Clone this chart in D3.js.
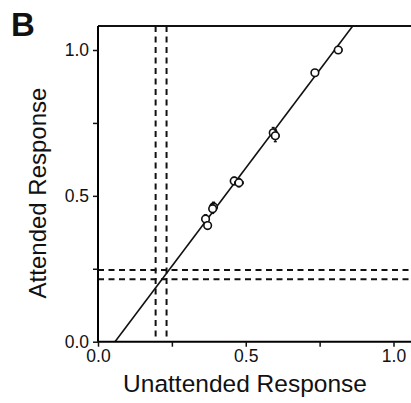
<!DOCTYPE html>
<html>
<head>
<meta charset="utf-8">
<script src="https://cdn.jsdelivr.net/npm/d3@7"></script>
<style>
  body { margin: 0; background: #fff; }
  text { font-family: "Liberation Sans", Arial, sans-serif; fill: #111; }
</style>
</head>
<body>
<div id="chart"></div>
<script>
// data
let unattended = [0.813, 0.734, 0.593, 0.600, 0.461, 0.477, 0.391, 0.388, 0.364, 0.371];
let attended   = [1.000, 0.922, 0.716, 0.706, 0.551, 0.545, 0.462, 0.456, 0.421, 0.398];
let errX       = [0.012, 0.010, 0.010, 0.012, 0.012, 0.014, 0.010, 0.010, 0.010, 0.008];
let errY       = [0.008, 0.010, 0.018, 0.020, 0.012, 0.014, 0.016, 0.016, 0.014, 0.012];

let fitLine = [[0.0575, 0], [0.862, 1.082]];
let vDashes = [0.195, 0.232];
let hDashes = [0.246, 0.214];

let tickVals = [0, 0.25, 0.5, 0.75, 1.0];
let tickLabels = ["0.0", "", "0.5", "", "1.0"];

var width = 411, height = 403;
var margin = { top: 26, left: 98, bottom: 61 };

var svg = d3.select("#chart").append("svg")
    .attr("width", width)
    .attr("height", height);

var x = d3.scaleLinear().domain([0, 1]).range([margin.left, 393.5]);
var y = d3.scaleLinear().domain([0, 1]).range([341.7, 50]);

// dashed guides
svg.selectAll(".vdash")
    .data(vDashes)
    .enter().append("line")
    .attr("x1", d => x(d)).attr("x2", d => x(d))
    .attr("y1", margin.top).attr("y2", y(0))
    .attr("stroke", "#111").attr("stroke-width", 2)
    .attr("stroke-dasharray", "6,4.5");

svg.selectAll(".hdash")
    .data(hDashes)
    .enter().append("line")
    .attr("x1", x(0)).attr("x2", width)
    .attr("y1", d => y(d)).attr("y2", d => y(d))
    .attr("stroke", "#111").attr("stroke-width", 2)
    .attr("stroke-dasharray", "6,4.5");

// regression line
svg.append("path")
    .attr("d", d3.line().x(d => x(d[0])).y(d => y(d[1]))(fitLine))
    .attr("stroke", "#111").attr("stroke-width", 1.6).attr("fill", "none");

// points with error bars
var pts = unattended.map((u, i) => ({ u: u, a: attended[i], ex: errX[i], ey: errY[i] }));

var g = svg.selectAll(".pt").data(pts).enter().append("g");

g.append("line")
    .attr("x1", d => x(d.u - d.ex)).attr("x2", d => x(d.u + d.ex))
    .attr("y1", d => y(d.a)).attr("y2", d => y(d.a))
    .attr("stroke", "#111").attr("stroke-width", 1.2);
g.append("line")
    .attr("x1", d => x(d.u)).attr("x2", d => x(d.u))
    .attr("y1", d => y(d.a - d.ey)).attr("y2", d => y(d.a + d.ey))
    .attr("stroke", "#111").attr("stroke-width", 1.2);
// caps
[-1, 1].forEach(function(s) {
    g.append("line")
        .attr("x1", d => x(d.u + s * d.ex)).attr("x2", d => x(d.u + s * d.ex))
        .attr("y1", d => y(d.a) - 1.5).attr("y2", d => y(d.a) + 1.5)
        .attr("stroke", "#111").attr("stroke-width", 1.5);
    g.append("line")
        .attr("x1", d => x(d.u) - 1.5).attr("x2", d => x(d.u) + 1.5)
        .attr("y1", d => y(d.a + s * d.ey)).attr("y2", d => y(d.a + s * d.ey))
        .attr("stroke", "#111").attr("stroke-width", 1.5);
});
g.append("circle")
    .attr("cx", d => x(d.u)).attr("cy", d => y(d.a))
    .attr("r", 3.8)
    .attr("fill", "#fff").attr("stroke", "#111").attr("stroke-width", 1.6);

// frame top
svg.append("line")
    .attr("x1", x(0)).attr("x2", width)
    .attr("y1", margin.top).attr("y2", margin.top)
    .attr("stroke", "#111").attr("stroke-width", 2);

// axes
var xAxis = d3.axisBottom(x).tickValues(tickVals)
    .tickFormat((d, i) => tickLabels[i]).tickSize(5).tickPadding(3);
var yAxis = d3.axisLeft(y).tickValues(tickVals)
    .tickFormat((d, i) => tickLabels[i]).tickSize(5).tickPadding(4);

var gx = svg.append("g")
    .attr("transform", `translate(0,${y(0)})`)
    .call(xAxis);
gx.select(".domain").attr("d", `M${x(0)},0H${width}`).attr("stroke-width", 2);

var gy = svg.append("g")
    .attr("transform", `translate(${x(0)},0)`)
    .call(yAxis);
gy.select(".domain").attr("d", `M0,${y(0)}V${margin.top}`).attr("stroke-width", 2);

svg.selectAll(".tick line").attr("stroke", "#111").attr("stroke-width", 1.5);
svg.selectAll(".tick text").style("font-size", "17.5px")
    .style("font-family", '"Liberation Sans", Arial, sans-serif').attr("fill", "#111");

// titles
svg.append("text")
    .attr("x", 245).attr("y", 392)
    .attr("text-anchor", "middle")
    .style("font-size", "24.5px")
    .text("Unattended Response");

svg.append("text")
    .attr("transform", "translate(46,193) rotate(-90)")
    .attr("text-anchor", "middle")
    .style("font-size", "24px")
    .text("Attended Response");

svg.append("text")
    .attr("x", 11).attr("y", 36)
    .style("font-size", "33px")
    .style("font-weight", "bold")
    .text("B");
</script>
</body>
</html>
